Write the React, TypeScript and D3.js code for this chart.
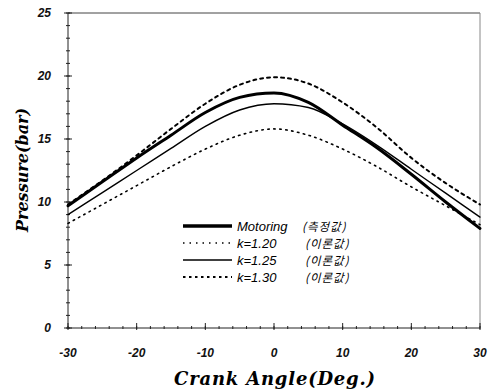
import React from "react";
import * as d3 from "d3";

const angles = [-30, -25, -20, -15, -10, -5, 0, 5, 10, 15, 20, 25, 30];
const motoring = [9.7, 11.6, 13.5, 15.3, 17.1, 18.3, 18.65, 17.9, 16.1, 14.3, 12.2, 10.0, 7.9];
const k120 = [8.3, 9.8, 11.3, 12.8, 14.2, 15.3, 15.8, 15.3, 14.2, 12.8, 11.2, 9.7, 8.2];
const k125 = [9.0, 10.75, 12.5, 14.25, 16.0, 17.3, 17.8, 17.5, 16.2, 14.5, 12.6, 10.7, 8.8];
const k130 = [9.8, 11.7, 13.7, 15.8, 17.8, 19.3, 19.9, 19.4, 17.9, 15.9, 13.5, 11.5, 9.8];
const xTicks = [-30, -20, -10, 0, 10, 20, 30];
const yTicks = [0, 5, 10, 15, 20, 25];
const legendLabels = ["Motoring", "k=1.20", "k=1.25", "k=1.30"];
const legendNotes = ["(측정값)", "(이론값)", "(이론값)", "(이론값)"];

export default function App() {
  const W = 489, H = 392;
  const x = d3.scaleLinear().domain([-30, 30]).range([68, 480]);
  const y = d3.scaleLinear().domain([0, 25]).range([328, 13]);
  const line = d3
    .line<number>()
    .x((_, i) => x(angles[i]))
    .y((d) => y(d))
    .curve(d3.curveMonotoneX);

  const series = [
    { data: motoring, w: 3, dash: "" },
    { data: k120, w: 1.6, dash: "1.5 4.5" },
    { data: k125, w: 1.4, dash: "" },
    { data: k130, w: 2, dash: "3 4" },
  ];
  const legendDash = ["", "1.5 5", "", "2.5 3.5"];

  const yMinor = d3.range(0, 25.01, 1);
  const xMinor = d3.range(-30, 30.01, 2);
  const fontTick = "'Liberation Sans', Arial, sans-serif";

  return (
    <svg width={W} height={H} style={{ position: "absolute", left: 0, top: 0, background: "#fff" }}>
      <line x1={x(-30)} x2={x(30)} y1={y(25)} y2={y(25)} stroke="#444" strokeWidth={1} />
      <line x1={x(30)} x2={x(30)} y1={y(25)} y2={y(0)} stroke="#888" strokeWidth={1} />
      <line x1={x(-30)} x2={x(-30)} y1={y(25)} y2={y(0)} stroke="#222" strokeWidth={1} />
      <line x1={x(-30)} x2={x(30)} y1={y(0)} y2={y(0)} stroke="#222" strokeWidth={1} />
      {yMinor.map((v) => (
        <line key={"ym" + v} x1={x(-30) - 2} x2={x(-30) + 2} y1={y(v)} y2={y(v)} stroke="#222" strokeWidth={1} />
      ))}
      {yTicks.map((v) => (
        <line key={"yM" + v} x1={x(-30) - 4} x2={x(-30) + 4} y1={y(v)} y2={y(v)} stroke="#222" strokeWidth={1} />
      ))}
      {xMinor.map((v) => (
        <line key={"xm" + v} x1={x(v)} x2={x(v)} y1={y(0) - 2} y2={y(0) + 1} stroke="#222" strokeWidth={1} />
      ))}
      {xTicks.map((v) => (
        <line key={"xM" + v} x1={x(v)} x2={x(v)} y1={y(0) - 5} y2={y(0) + 2} stroke="#222" strokeWidth={1} />
      ))}
      {yTicks.map((v) => (
        <text key={"yl" + v} x={51} y={y(v) + 4} textAnchor="end" fontFamily={fontTick} fontStyle="italic" fontWeight="bold" fontSize={12} fill="#111">
          {v}
        </text>
      ))}
      {xTicks.map((v) => (
        <text key={"xl" + v} x={x(v)} y={357} textAnchor="middle" fontFamily={fontTick} fontStyle="italic" fontWeight="bold" fontSize={12} fill="#111">
          {v}
        </text>
      ))}
      <text x={275} y={385} textAnchor="middle" fontFamily="'DejaVu Serif', serif" fontStyle="italic" fontWeight="bold" fontSize={18} letterSpacing={0.8} fill="#000">
        Crank Angle(Deg.)
      </text>
      <text transform="translate(28,170) rotate(-90)" textAnchor="middle" fontFamily="'DejaVu Serif', serif" fontStyle="italic" fontWeight="bold" fontSize={16} fill="#000">
        Pressure(bar)
      </text>
      {series.map((s, i) => (
        <path key={"s" + i} d={line(s.data) || ""} fill="none" stroke="#000" strokeWidth={s.w} strokeDasharray={s.dash} strokeLinecap="round" />
      ))}
      {legendLabels.map((lab, i) => {
        const ly = 226 + i * 17;
        return (
          <g key={"lg" + i}>
            <line x1={183} x2={232} y1={ly} y2={ly} stroke="#000" strokeWidth={i === 0 ? 3.5 : series[i].w} strokeDasharray={legendDash[i]} />
            <text x={237} y={ly + 4.5} fontFamily={fontTick} fontStyle="italic" fontSize={13} fill="#000">
              {lab}
            </text>
            <text x={i === 0 ? 302 : 305} y={ly + 4.5} fontFamily="'Noto Sans CJK KR', sans-serif" fontStyle="italic" fontSize={11.5} letterSpacing={1} fill="#000">
              {legendNotes[i]}
            </text>
          </g>
        );
      })}
    </svg>
  );
}
